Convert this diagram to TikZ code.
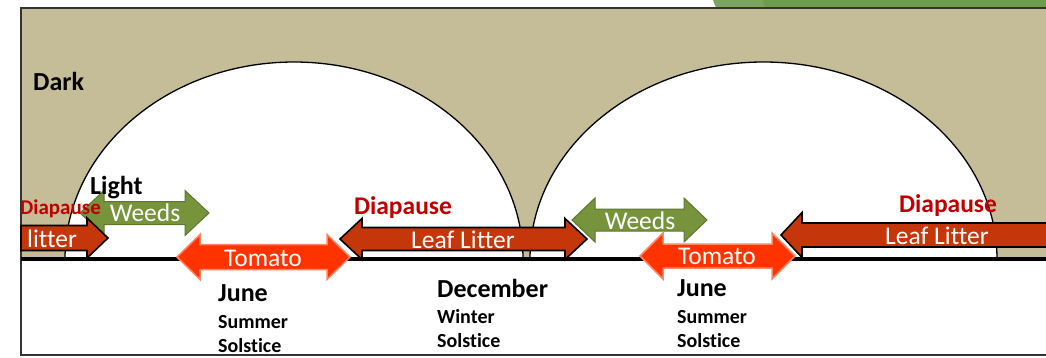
\documentclass[tikz,border=0pt]{standalone}
\usepackage{fontspec}
\setmainfont{Carlito}[Ligatures=NoCommon]
\usetikzlibrary{positioning}
\definecolor{darktan}{HTML}{C4BD97}
\definecolor{weedgreen}{HTML}{77933C}
\definecolor{littered}{HTML}{C5360A}
\definecolor{tomatored}{HTML}{FF3300}
\definecolor{diared}{HTML}{C00000}
\definecolor{topgreen}{HTML}{7BA55E}
\definecolor{topgreendk}{HTML}{6E9C4E}

\begin{document}
\begin{tikzpicture}[x=1pt,y=-1pt,
		litter/.style={fill=littered,draw=black,line width=1.6pt},
		weeds/.style={fill=weedgreen,draw=weedgreen!80!black,line width=1pt},
		tomato/.style={fill=tomatored,draw=tomatored!60!white,line width=1.5pt},
		lbl/.style={text=white,font=\fontsize{25.5}{30}\selectfont,inner sep=0pt},
		dia/.style={text=diared,font=\fontsize{25.5}{30}\selectfont\bfseries,inner sep=0pt,anchor=base},
		month/.style={font=\fontsize{26}{30}\selectfont\bfseries,anchor=base west,inner sep=0pt},
		season/.style={font=\fontsize{20}{24}\selectfont\bfseries,anchor=base west,inner sep=0pt},
	]
	% style, left x, right x, mid y, body half, head half, head length
	\def\dblarrow#1#2#3#4#5#6#7{\path[#1] (#2,#4) -- ({#2+#7},{#4-#6}) -- ({#2+#7},{#4-#5}) -- ({#3-#7},{#4-#5}) -- ({#3-#7},{#4-#6}) -- (#3,#4) -- ({#3-#7},{#4+#6}) -- ({#3-#7},{#4+#5}) -- ({#2+#7},{#4+#5}) -- ({#2+#7},{#4+#6}) -- cycle;}
	\def\rarrow#1#2#3#4#5#6#7{\path[#1] (#2,{#4-#5}) -- ({#3-#7},{#4-#5}) -- ({#3-#7},{#4-#6}) -- (#3,#4) -- ({#3-#7},{#4+#6}) -- ({#3-#7},{#4+#5}) -- (#2,{#4+#5}) -- cycle;}
	\def\larrow#1#2#3#4#5#6#7{\path[#1] (#2,#4) -- ({#2+#7},{#4-#6}) -- ({#2+#7},{#4-#5}) -- (#3,{#4-#5}) -- (#3,{#4+#5}) -- ({#2+#7},{#4+#5}) -- ({#2+#7},{#4+#6}) -- cycle;}

	\useasboundingbox (0,0) rectangle (1046,357);

	% corner of the next panel
	\fill[topgreen] (713,0) -- (1050,0) -- (1050,8) -- (716,8) -- cycle;
	\fill[topgreendk] (763,0) -- (1050,0) -- (1050,8) -- (765,8) -- cycle;

	% dark sky and the two day arcs
	\fill[darktan] (21,8) rectangle (1050,259);
	\draw[fill=white,line width=1.3pt] (65,259) arc[start angle=180,end angle=0,x radius=229pt,y radius=197pt] -- cycle;
	\draw[fill=white,line width=1.3pt] (530,259) arc[start angle=180,end angle=0,x radius=233.5pt,y radius=197pt] -- cycle;
	\draw[line width=1.2pt,draw=black!80] (21,8) rectangle (1052,355);
	\draw[line width=4pt] (21,259) -- (1050,259);

	% season arrows
	\dblarrow{weeds}{80}{209}{213}{11.5}{22.5}{24}
	\rarrow{litter}{21}{108}{238}{12.5}{20}{21}
	\dblarrow{weeds}{572}{707}{220}{11}{22}{23}
	\dblarrow{tomato}{177}{350}{257}{12.5}{22.5}{23}
	\dblarrow{litter}{340}{587}{239}{11.5}{20.5}{22}
	\larrow{litter}{781}{1052}{235}{12}{22.5}{21}
	\dblarrow{tomato}{640}{795}{256}{12}{23}{23}

	\node[lbl] (weedsA) at (145,213) {Weeds};
	\node[lbl,anchor=west] (litterA) at (27,239) {litter};
	\node[lbl] (tomA) at (263,258) {Tomato};
	\node[lbl] (leafA) at (463,240) {Leaf Litter};
	\node[lbl] (weedsB) at (640,221) {Weeds};
	\node[lbl] (tomB) at (717,256) {Tomato};
	\node[lbl] (leafB) at (937,236) {Leaf Litter};

	\node[dia,anchor=base west,font=\fontsize{21}{25}\selectfont\bfseries] (diaA) at (20,214) {Diapause};
	\node[dia] (diaB) at (403,214) {Diapause};
	\node[dia] (diaC) at (948,212) {Diapause};

	\node[month] (dark) at (33,90) {Dark};
	\node[month] (light) at (90,194) {Light};

	\node[month] (juneA) at (218,301) {June};
	\node[season] (sumA) at (218,328) {Summer};
	\node[season] (solA) at (218,352) {Solstice};
	\node[month] (dec) at (437,297) {December};
	\node[season] (win) at (437,323) {Winter};
	\node[season] (solB) at (437,347) {Solstice};
	\node[month] (juneB) at (677,296) {June};
	\node[season] (sumB) at (677,323) {Summer};
	\node[season] (solC) at (677,347) {Solstice};
\end{tikzpicture}
\end{document}
